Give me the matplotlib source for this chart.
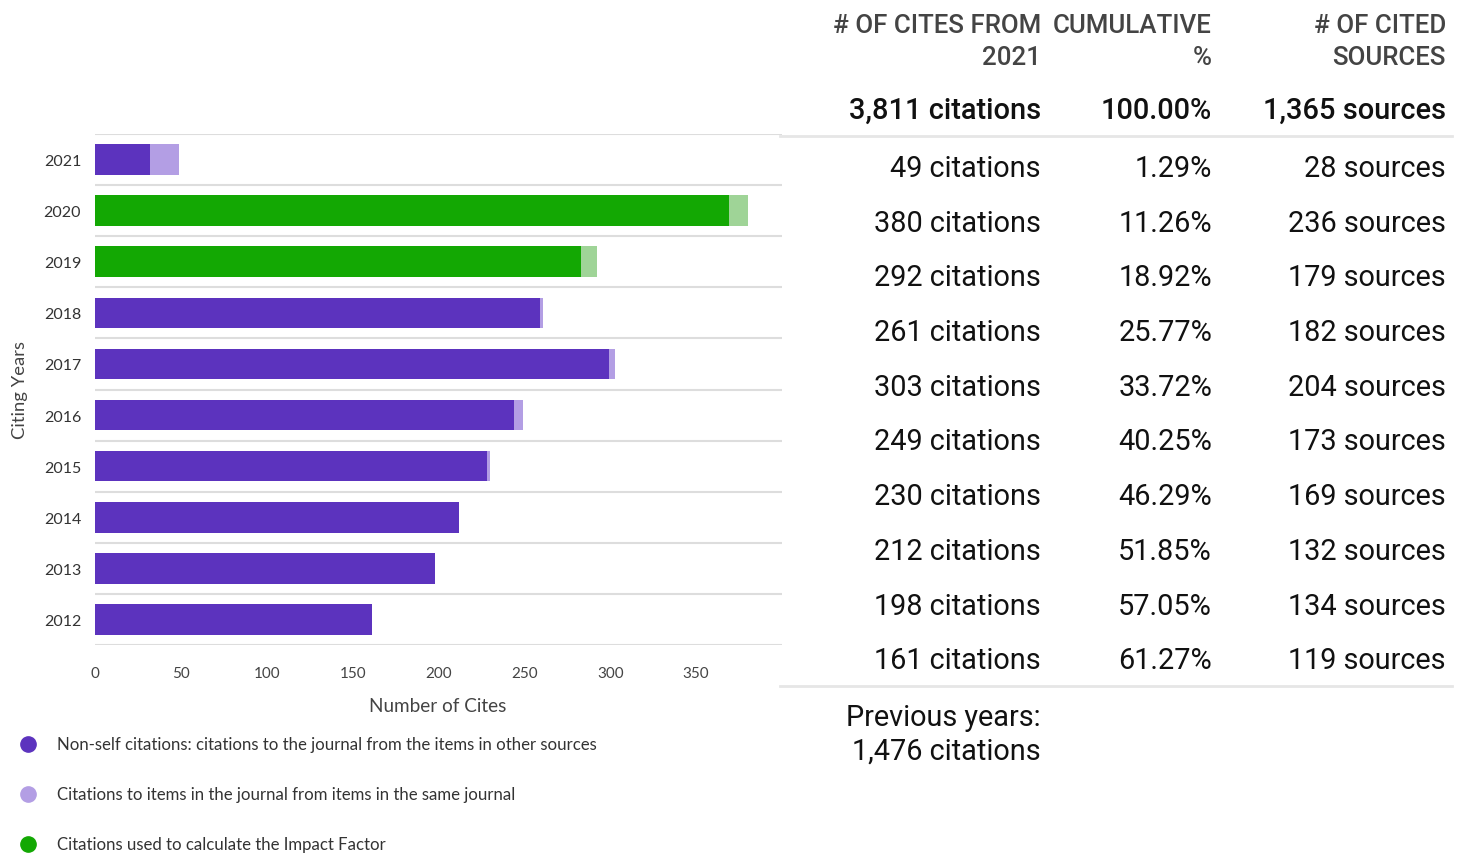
import matplotlib.pyplot as plt
import numpy as np

# Citing years, top to bottom
years = ['2021', '2020', '2019', '2018', '2017', '2016', '2015', '2014', '2013', '2012']
non_self = [32, 369, 283, 259, 299, 244, 228, 212, 198, 161]
self_cites = [17, 11, 9, 2, 4, 5, 2, 0, 0, 0]
if_years = ['2020', '2019']  # years used for the Impact Factor

# Table values
cites = ['49 citations', '380 citations', '292 citations', '261 citations', '303 citations',
         '249 citations', '230 citations', '212 citations', '198 citations', '161 citations']
cumulative = ['1.29%', '11.26%', '18.92%', '25.77%', '33.72%', '40.25%', '46.29%',
              '51.85%', '57.05%', '61.27%']
sources = ['28 sources', '236 sources', '179 sources', '182 sources', '204 sources',
           '173 sources', '169 sources', '132 sources', '134 sources', '119 sources']
total_row = ['3,811 citations', '100.00%', '1,365 sources']
headers = ['# OF CITES FROM\n2021', 'CUMULATIVE\n%', '# OF CITED\nSOURCES']
x_ticks = [0, 50, 100, 150, 200, 250, 300, 350]

legend_labels = ['Non-self citations: citations to the journal from the items in other sources',
                 'Citations to items in the journal from items in the same journal',
                 'Citations used to calculate the Impact Factor']

PURPLE = '#5c33be'
LIGHT_PURPLE = '#b39ee4'
GREEN = '#13a803'
LIGHT_GREEN = '#9fd497'

W, H = 1465, 854
fig = plt.figure(figsize=(W / 100, H / 100), dpi=100)


def px(x, y):
    return x / W, 1 - y / H


chart_font = ['Lato', 'DejaVu Sans']
table_font = ['Roboto', 'DejaVu Sans']

# bar chart
ax = fig.add_axes([95 / W, 1 - 646 / H, 687 / W, 511 / H])
y = np.arange(len(years))
base_col = [GREEN if yr in if_years else PURPLE for yr in years]
top_col = [LIGHT_GREEN if yr in if_years else LIGHT_PURPLE for yr in years]
ax.barh(y, non_self, height=0.6, color=base_col, zorder=2)
ax.barh(y, self_cites, left=non_self, height=0.6, color=top_col, zorder=2)

for k in range(len(years) + 1):
    ax.axhline(k - 0.5, color='#dddddd', linewidth=1.5, zorder=1)

ax.set_ylim(len(years) - 0.5, -0.5)
ax.set_xlim(0, 400)
ax.set_yticks(y)
ax.set_yticklabels(years, fontsize=11.5, color='#333333', family=chart_font)
ax.set_xticks(x_ticks)
ax.set_xticklabels([str(t) for t in x_ticks], fontsize=11, color='#444444', family=chart_font)
ax.tick_params(length=0)
ax.tick_params(axis='y', pad=10)
ax.tick_params(axis='x', pad=15)
for s in ax.spines.values():
    s.set_visible(False)

fig.text(*px(438, 707), 'Number of Cites', ha='center', va='center', fontsize=13.6,
         color='#444444', family=chart_font)
fig.text(*px(20, 390), 'Citing Years', ha='center', va='center', rotation=90, fontsize=13.3,
         color='#444444', family=chart_font)

# legend
for i, (lab, c) in enumerate(zip(legend_labels, [PURPLE, LIGHT_PURPLE, GREEN])):
    yy = 745 + 50 * i
    fig.text(*px(57, yy), lab, ha='left', va='center', fontsize=12.1, color='#333333',
             family=chart_font)
    fig.lines.append(plt.Line2D([28 / W], [1 - yy / H], marker='o', markersize=11, color=c,
                                transform=fig.transFigure, linestyle='none'))

# table on the right
col_x = [1041, 1212, 1446]
for cx, h in zip(col_x, headers):
    fig.text(*px(cx, 42), h, ha='right', va='center', fontsize=18.6, color='#444444',
             family=table_font, weight='medium', linespacing=1.4)
for cx, t in zip(col_x, total_row):
    fig.text(*px(cx, 111), t, ha='right', va='center', fontsize=20.9, color='#111111',
             family=table_font, weight='medium')

for i in range(len(years)):
    yy = 169 + 54.7 * i
    for cx, t in zip(col_x, [cites[i], cumulative[i], sources[i]]):
        fig.text(*px(cx, yy), t, ha='right', va='center', fontsize=20.8, color='#111111',
                 family=table_font)

for ly in [137, 687]:
    fig.lines.append(plt.Line2D([780 / W, 1452 / W], [1 - ly / H, 1 - ly / H], color='#e6e6e6',
                                linewidth=2, transform=fig.transFigure))

fig.text(*px(1041, 735), 'Previous years:\n1,476 citations', ha='right', va='center',
         fontsize=20.8, color='#111111', family=table_font, linespacing=1.25)

fig.savefig('out.png', dpi=100)
